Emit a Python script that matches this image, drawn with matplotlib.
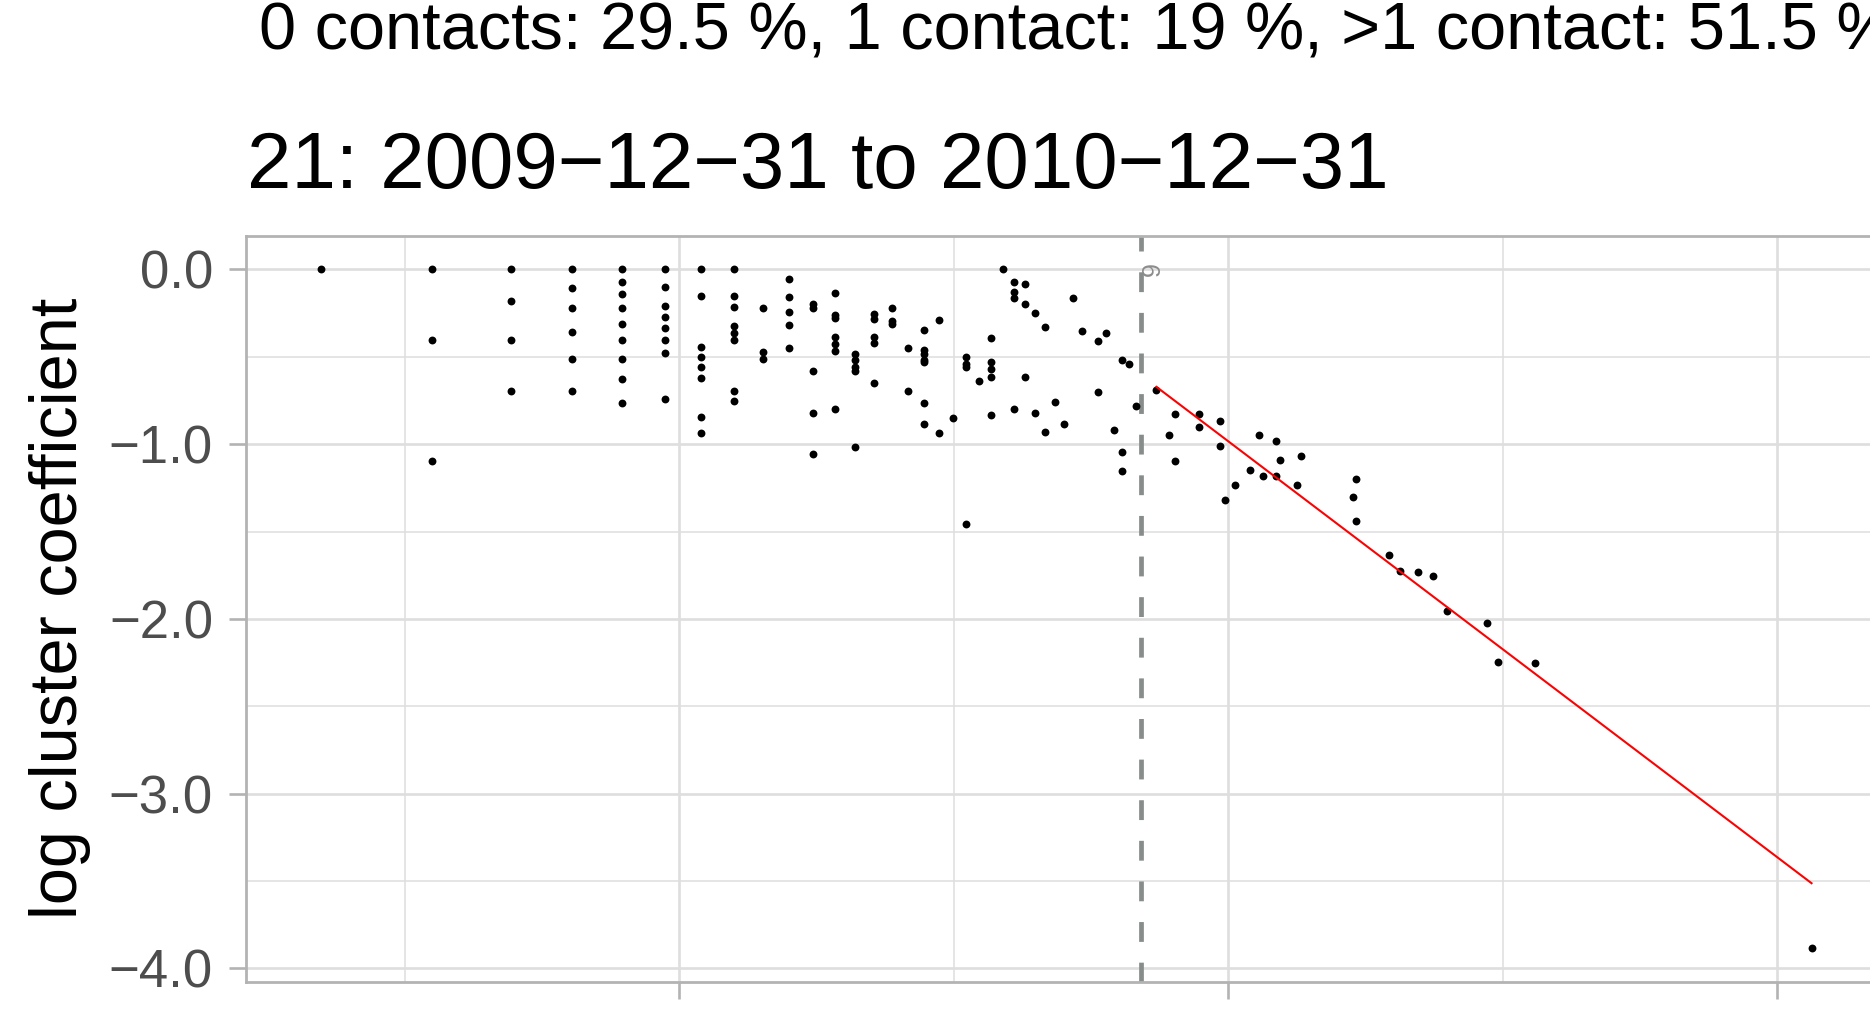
import numpy as np
import matplotlib
matplotlib.use('Agg')
import matplotlib.pyplot as plt
from matplotlib.ticker import FixedLocator

plt.rcParams['font.family'] = ['Liberation Sans', 'DejaVu Sans']

top_text = '0 contacts: 29.5 %, 1 contact: 19 %, >1 contact: 51.5 %'
title = '21: 2009\u221212\u221231 to 2010\u221212\u221231'
y_label = 'log cluster coefficient'

# node degree (x is log of it) and the log cluster coefficients found at that degree
degrees = [2, 3, 4, 5, 6, 7, 8, 9, 10, 11, 12, 13, 14, 15, 16, 17, 18, 19, 20,
           21, 22, 23, 24, 25, 26, 27, 28, 29, 30, 31, 32, 34, 35, 36, 37, 38, 39,
           42, 44, 45, 49, 53, 54, 56, 59, 61, 62, 65, 66, 70, 71, 86, 87,
           98, 102, 109, 115, 121, 140, 146, 167, 457]
log_cc = [
    [0.0],
    [0.0, -0.405, -1.099],
    [0.0, -0.182, -0.405, -0.693],
    [0.0, -0.105, -0.223, -0.357, -0.511, -0.693],
    [0.0, -0.069, -0.143, -0.223, -0.310, -0.405, -0.511, -0.629, -0.762],
    [0.0, -0.100, -0.211, -0.272, -0.336, -0.405, -0.480, -0.742],
    [0.0, -0.154, -0.442, -0.499, -0.560, -0.624, -0.847, -0.934],
    [0.0, -0.150, -0.216, -0.325, -0.365, -0.405, -0.693, -0.750],
    [-0.223, -0.474, -0.511],
    [-0.056, -0.157, -0.246, -0.318, -0.452],
    [-0.196, -0.221, -0.579, -0.822, -1.054],
    [-0.137, -0.262, -0.279, -0.386, -0.425, -0.465, -0.801],
    [-0.484, -0.521, -0.561, -0.581, -1.015],
    [-0.256, -0.284, -0.389, -0.420, -0.647],
    [-0.223, -0.295, -0.311],
    [-0.447, -0.693],
    [-0.347, -0.463, -0.484, -0.517, -0.530, -0.767, -0.887],
    [-0.288, -0.936],
    [-0.853],
    [-0.501, -0.542, -0.559, -1.455],
    [-0.638],
    [-0.391, -0.529, -0.571, -0.614, -0.833],
    [0.0],
    [-0.071, -0.130, -0.162, -0.800],
    [-0.086, -0.197, -0.618],
    [-0.252, -0.824],
    [-0.329, -0.932],
    [-0.760],
    [-0.883],
    [-0.165],
    [-0.351],
    [-0.410, -0.702],
    [-0.364],
    [-0.916],
    [-0.516, -1.046, -1.154],
    [-0.539],
    [-0.782],
    [-0.688],
    [-0.949],
    [-0.830, -1.099],
    [-0.825, -0.899],
    [-0.867, -1.010],
    [-1.322],
    [-1.236],
    [-1.150],
    [-0.949],
    [-1.181],
    [-0.981, -1.181],
    [-1.088],
    [-1.236],
    [-1.070],
    [-1.300],
    [-1.200, -1.442],
    [-1.633],
    [-1.727],
    [-1.729],
    [-1.753],
    [-1.954],
    [-2.022],
    [-2.247],
    [-2.255],
    [-3.885],
]

cutoff_log_degree = 3.68
cutoff_label = '9'
fit_intercept = 3.776
fit_slope = -1.19

y_major = [0.0, -1.0, -2.0, -3.0, -4.0]
y_minor = [-0.5, -1.5, -2.5, -3.5]
x_major = [2, 4, 6]
x_minor = [1, 3, 5]

x = np.log(np.concatenate([[d] * len(v) for d, v in zip(degrees, log_cc)]))
y = np.concatenate(log_cc)

fig = plt.figure(figsize=(18.7, 10.09), dpi=100)
ax = fig.add_axes([0.1317, 0.0265, 0.8769, 0.7401])

ax.scatter(x, y, s=32, color='black', linewidths=0, zorder=3)

ax.axvline(cutoff_log_degree, color='#878D8B', lw=3.4, ls=(0, (4.2, 4.4)), zorder=2)
ax.annotate(cutoff_label, (cutoff_log_degree, 0.0), xytext=(9.2, 0),
            textcoords='offset points', rotation=90, ha='center', va='center',
            fontsize=18, color='#8C8C8C')

xf = x[x > cutoff_log_degree]
xs = np.array([xf.min(), xf.max()])
ax.plot(xs, fit_intercept + fit_slope * xs, color='red', lw=1.5, zorder=4)

xr = x.max() - x.min()
yr = y.max() - y.min()
ax.set_xlim(x.min() - 0.05 * xr, x.max() + 0.05 * xr)
ax.set_ylim(y.min() - 0.05 * yr, y.max() + 0.05 * yr)

ax.xaxis.set_major_locator(FixedLocator(x_major))
ax.xaxis.set_minor_locator(FixedLocator(x_minor))
ax.set_yticks(y_major)
ax.set_yticklabels([f'{v:.1f}'.replace('-', '\u2212') for v in y_major])
ax.yaxis.set_minor_locator(FixedLocator(y_minor))

ax.set_axisbelow(True)
ax.grid(which='major', color='#DEDEDE', lw=1.9)
ax.grid(which='minor', color='#DEDEDE', lw=1.1)
ax.tick_params(which='major', length=12, width=1.9, color='#B3B3B3',
               labelsize=38, labelcolor='#4D4D4D', pad=12, labelbottom=False)
ax.tick_params(which='minor', length=0)
for s in ax.spines.values():
    s.set_color('#B3B3B3')
    s.set_linewidth(2.0)

fig.text(60 / 1870, 0.397, y_label, rotation=90, ha='center', va='center', fontsize=48)
# the reference crops this line at the right edge as well
fig.text(259 / 1870, 1 - 50 / 1009, top_text, ha='left', va='baseline', fontsize=48)
fig.text(247 / 1870, 1 - 188 / 1009, title, ha='left', va='baseline', fontsize=57.5)

fig.savefig('out.png', dpi=100)
